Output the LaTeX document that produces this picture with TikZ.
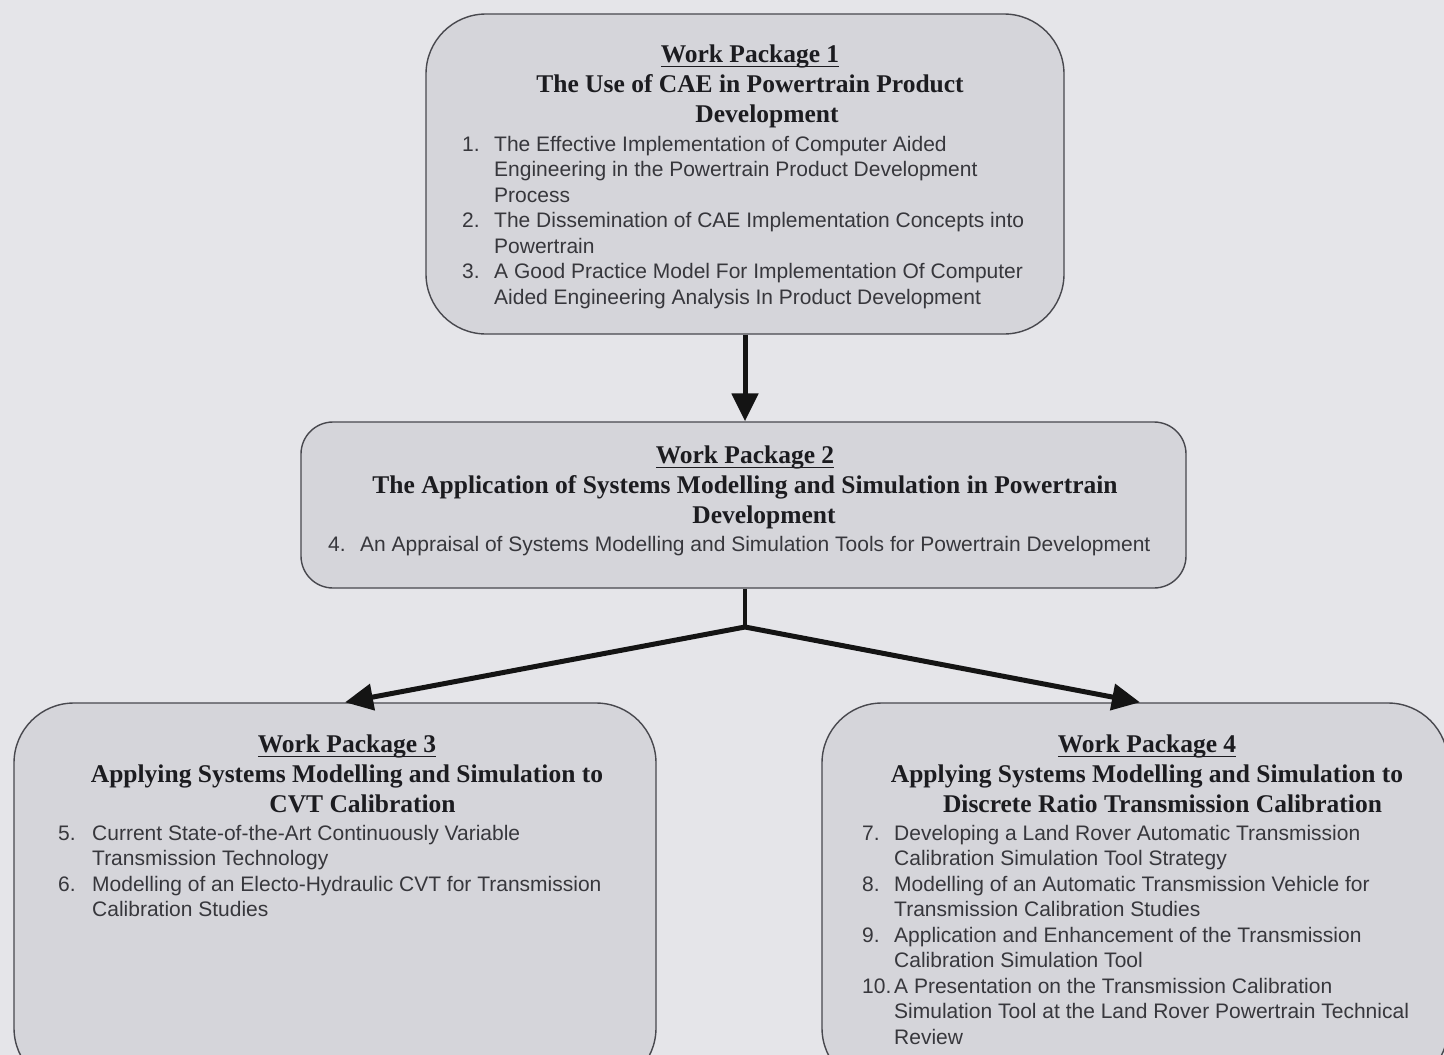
\documentclass[tikz,border=0pt]{standalone}
\usepackage{fontspec}
\setmainfont{Liberation Serif}
\newfontfamily\bodyfont{Liberation Sans}
\usetikzlibrary{arrows.meta}

\definecolor{paper}{RGB}{229,229,233}
\definecolor{boxfill}{RGB}{213,213,218}
\definecolor{boxline}{RGB}{72,72,78}
\definecolor{ink}{RGB}{28,28,32}
\definecolor{bodyink}{RGB}{55,55,60}

% underline drawn a fixed distance below the baseline
\newcommand{\wpuline}[1]{\setbox0\hbox{#1}\rlap{\rule[-5pt]{\wd0}{1.4pt}}\box0}

\tikzset{
  wpbox/.style={draw=boxline, fill=boxfill, line width=1.4pt, inner sep=0pt},
  headtext/.style={inner sep=0pt, anchor=base, text=ink,
    font=\fontsize{25.5}{30}\selectfont\bfseries},
  bodytext/.style={inner sep=0pt, anchor=base west, text=bodyink,
    font=\bodyfont\fontsize{21}{25.5}\selectfont},
  flow/.style={line width=5pt, draw=black!92, -{Triangle[length=28pt,width=26pt]}},
  stem/.style={line width=4.5pt, draw=black!92}
}

\begin{document}
\begin{tikzpicture}[x=1pt, y=-1pt]
  \useasboundingbox (0,0) rectangle (1444,1055);
  \fill[paper] (0,0) rectangle (1444,1055);
  \clip (0,0) rectangle (1444,1055);

  % work package boxes
  \node[wpbox, rounded corners=60pt, minimum width=638pt, minimum height=320pt] (wp1) at (745,174) {};
  \node[wpbox, rounded corners=32pt, minimum width=885pt, minimum height=166pt] (wp2) at (743.5,505) {};
  \node[wpbox, rounded corners=60pt, minimum width=642pt, minimum height=385pt] (wp3) at (335,895.5) {};
  \node[wpbox, rounded corners=60pt, minimum width=626pt, minimum height=385pt] (wp4) at (1135,895.5) {};

  % connectors
  \coordinate (fork) at (745,627);
  \coordinate (tip3) at ([xshift=10pt]wp3.north);
  \coordinate (tip4) at ([xshift=5pt]wp4.north);
  \draw[flow] (wp1.south) -- (wp1.south |- wp2.north);
  \draw[stem] (wp2.south -| fork) -- (fork);
  \draw[flow] (fork) -- (tip3);
  \draw[flow] (fork) -- (tip4);

  % headings
  \node[headtext] (wp1head) at (750,62) {\begin{tabular}[t]{@{}c@{}}
    \wpuline{Work Package 1}\\
    The Use of CAE in Powertrain Product\\
    \hspace*{34pt}Development
  \end{tabular}};
  \node[headtext] (wp2head) at (745,463) {\begin{tabular}[t]{@{}c@{}}
    \wpuline{Work Package 2}\\
    The Application of Systems Modelling and Simulation in Powertrain\\
    \hspace*{38pt}Development
  \end{tabular}};
  \node[headtext] (wp3head) at (347,752) {\begin{tabular}[t]{@{}c@{}}
    \wpuline{Work Package 3}\\
    Applying Systems Modelling and Simulation to\\
    \hspace*{31pt}CVT Calibration
  \end{tabular}};
  \node[headtext] (wp4head) at (1147,752) {\begin{tabular}[t]{@{}c@{}}
    \wpuline{Work Package 4}\\
    Applying Systems Modelling and Simulation to\\
    \hspace*{31pt}Discrete Ratio Transmission Calibration
  \end{tabular}};

  % numbered reports
  \node[bodytext] (wp1body) at (462,151) {\begin{tabular}[t]{@{}p{32pt}@{}l@{}}
    1. & The Effective Implementation of Computer Aided\\
       & Engineering in the Powertrain Product Development\\
       & Process\\
    2. & The Dissemination of CAE Implementation Concepts into\\
       & Powertrain\\
    3. & A Good Practice Model For Implementation Of Computer\\
       & Aided Engineering Analysis In Product Development
  \end{tabular}};
  \node[bodytext] (wp2body) at (328,551) {\begin{tabular}[t]{@{}p{32pt}@{}l@{}}
    4. & An Appraisal of Systems Modelling and Simulation Tools for Powertrain Development
  \end{tabular}};
  \node[bodytext] (wp3body) at (58,840) {\begin{tabular}[t]{@{}p{34pt}@{}l@{}}
    5. & Current State-of-the-Art Continuously Variable\\
       & Transmission Technology\\
    6. & Modelling of an Electo-Hydraulic CVT for Transmission\\
       & Calibration Studies
  \end{tabular}};
  \node[bodytext] (wp4body) at (862,840) {\begin{tabular}[t]{@{}p{32pt}@{}l@{}}
    7. & Developing a Land Rover Automatic Transmission\\
       & Calibration Simulation Tool Strategy\\
    8. & Modelling of an Automatic Transmission Vehicle for\\
       & Transmission Calibration Studies\\
    9. & Application and Enhancement of the Transmission\\
       & Calibration Simulation Tool\\
    10.& A Presentation on the Transmission Calibration\\
       & Simulation Tool at the Land Rover Powertrain Technical\\
       & Review
  \end{tabular}};
\end{tikzpicture}
\end{document}
